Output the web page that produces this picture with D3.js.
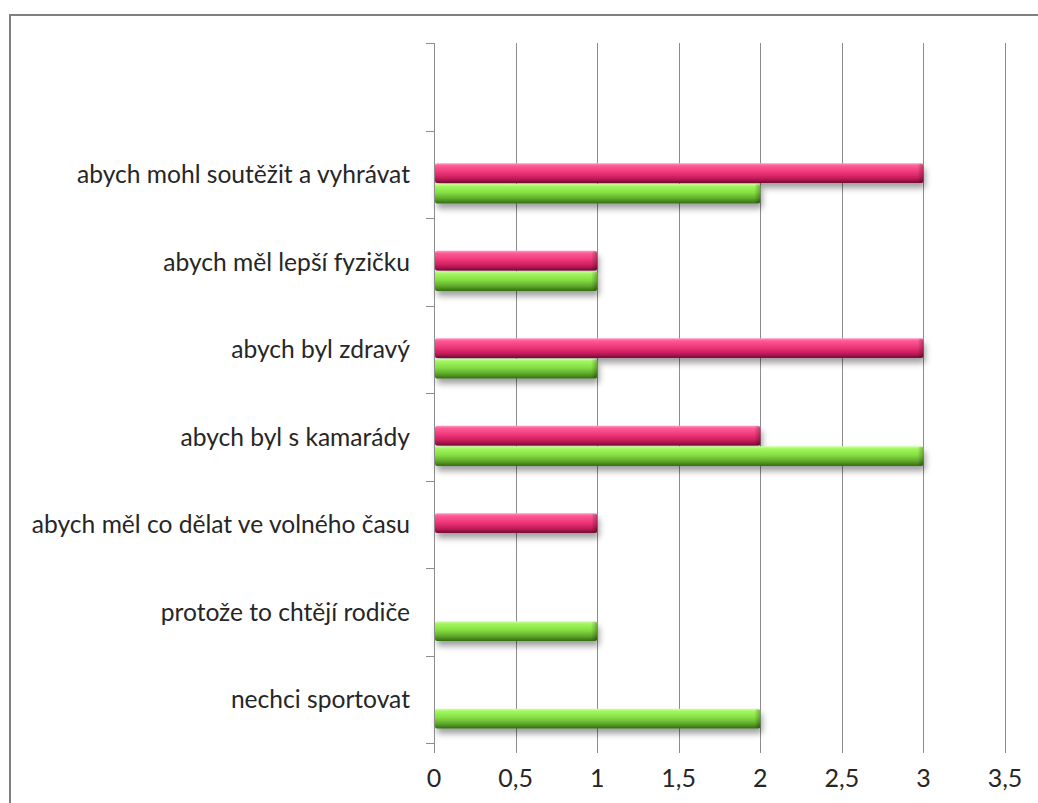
<!DOCTYPE html>
<html>
<head>
<meta charset="utf-8">
<script src="https://cdn.jsdelivr.net/npm/d3@7"></script>
<style>
  html, body { margin: 0; padding: 0; background: #fff; }
  svg { display: block; }
  text { font-family: Lato, "Open Sans", sans-serif; fill: #262626; }
</style>
</head>
<body>
<svg id="chart" width="1038" height="803"></svg>
<script>
// Category labels, bottom to top; the top band is left empty
const categories = [
  "nechci sportovat",
  "protože to chtějí rodiče",
  "abych měl co dělat ve volného času",
  "abych byl s kamarády",
  "abych byl zdravý",
  "abych měl lepší fyzičku",
  "abych mohl soutěžit a vyhrávat",
  ""
];
// Upper (pink) bar of each pair
const pinkValues = [0, 0, 1, 2, 3, 1, 3, null];
// Lower (green) bar of each pair
const greenValues = [2, 1, 0, 3, 1, 1, 2, null];
const xTicks = [0, 0.5, 1, 1.5, 2, 2.5, 3, 3.5];
const xTickLabels = ["0", "0,5", "1", "1,5", "2", "2,5", "3", "3,5"];

const svg = d3.select("#chart");
const plotL = 434, plotR = 1005, plotT = 43, plotB = 743;

const x = d3.scaleLinear().domain([0, 3.5]).range([plotL, plotR]);
const y = d3.scaleBand().domain(categories).range([plotB, plotT]).padding(0);
const bw = y.bandwidth();
// two series stacked inside each band, sitting a bit below the band middle
const sub = d3.scaleBand().domain(["pink", "green"])
  .range([bw * 0.375, bw * 0.835]).paddingInner(0.04);

const defs = svg.append("defs");
function vGrad(id, stops) {
  const g = defs.append("linearGradient").attr("id", id)
    .attr("x1", 0).attr("y1", 0).attr("x2", 0).attr("y2", 1);
  stops.forEach(s => g.append("stop").attr("offset", s[0]).attr("stop-color", s[1]));
}
vGrad("gPink", [[0, "#fb9cc0"], [0.12, "#ff5a97"], [0.45, "#ee3778"], [0.75, "#c81d5c"], [1, "#750a35"]]);
vGrad("gGreen", [[0, "#cfffa5"], [0.12, "#a2f760"], [0.45, "#84de42"], [0.75, "#5fa82b"], [1, "#316d11"]]);
const cap = defs.append("linearGradient").attr("id", "gCap")
  .attr("x1", 0).attr("y1", 0).attr("x2", 1).attr("y2", 0);
cap.append("stop").attr("offset", 0).attr("stop-color", "#000").attr("stop-opacity", 0);
cap.append("stop").attr("offset", 1).attr("stop-color", "#000").attr("stop-opacity", 0.28);

const f = defs.append("filter").attr("id", "shadow")
  .attr("x", "-5%").attr("y", "-40%").attr("width", "115%").attr("height", "220%");
f.append("feDropShadow").attr("dx", 2).attr("dy", 5).attr("stdDeviation", 3.2)
  .attr("flood-color", "#000").attr("flood-opacity", 0.38);

// outer frame
svg.append("rect").attr("x", 10).attr("y", 15).attr("width", 1040).attr("height", 800)
  .attr("fill", "none").attr("stroke", "#7f7f7f").attr("stroke-width", 2);

// vertical gridlines
svg.append("g").selectAll("line").data(xTicks.slice(1)).join("line")
  .attr("x1", d => Math.round(x(d)) + 0.5).attr("x2", d => Math.round(x(d)) + 0.5)
  .attr("y1", plotT).attr("y2", plotB + 10)
  .attr("stroke", "#8c8c8c").attr("stroke-width", 1);

// bars
const rows = categories.map((c, i) => ({ c, pink: pinkValues[i], green: greenValues[i] }));
const bars = [];
rows.forEach(r => {
  if (r.pink) bars.push({ c: r.c, s: "pink", v: r.pink });
  if (r.green) bars.push({ c: r.c, s: "green", v: r.green });
});
const bg = svg.append("g");
const bar = bg.selectAll("g").data(bars).join("g")
  .attr("transform", d => `translate(0,${y(d.c) + sub(d.s)})`);
bar.append("rect")
  .attr("x", x(0) + 1).attr("y", 0)
  .attr("width", d => x(d.v) - x(0) - 1).attr("height", sub.bandwidth())
  .attr("rx", 2)
  .attr("fill", d => d.s === "pink" ? "url(#gPink)" : "url(#gGreen)")
  .attr("filter", "url(#shadow)");
bar.append("rect")
  .attr("x", d => x(d.v) - 6).attr("y", 0.5)
  .attr("width", 6).attr("height", sub.bandwidth() - 1).attr("rx", 2)
  .attr("fill", "url(#gCap)");

// category axis
const ya = svg.append("g");
ya.append("line").attr("x1", plotL + 0.5).attr("x2", plotL + 0.5)
  .attr("y1", plotT).attr("y2", plotB + 10).attr("stroke", "#8c8c8c");
const bandEdges = categories.map(c => y(c)).concat([plotB]);
ya.selectAll("line.t").data(bandEdges).join("line").attr("class", "t")
  .attr("x1", plotL - 8).attr("x2", plotL)
  .attr("y1", d => Math.round(d) + 0.5).attr("y2", d => Math.round(d) + 0.5)
  .attr("stroke", "#8c8c8c");
ya.selectAll("text").data(categories.filter(c => c)).join("text")
  .attr("x", 410).attr("y", d => y(d) + bw / 2 + 9)
  .attr("text-anchor", "end")
  .attr("font-size", 24.6).text(d => d);

// value axis labels
svg.append("g").selectAll("text").data(xTicks).join("text")
  .attr("x", d => x(d)).attr("y", 787)
  .attr("text-anchor", "middle").attr("font-size", 25)
  .text((d, i) => xTickLabels[i]);
</script>
</body>
</html>
